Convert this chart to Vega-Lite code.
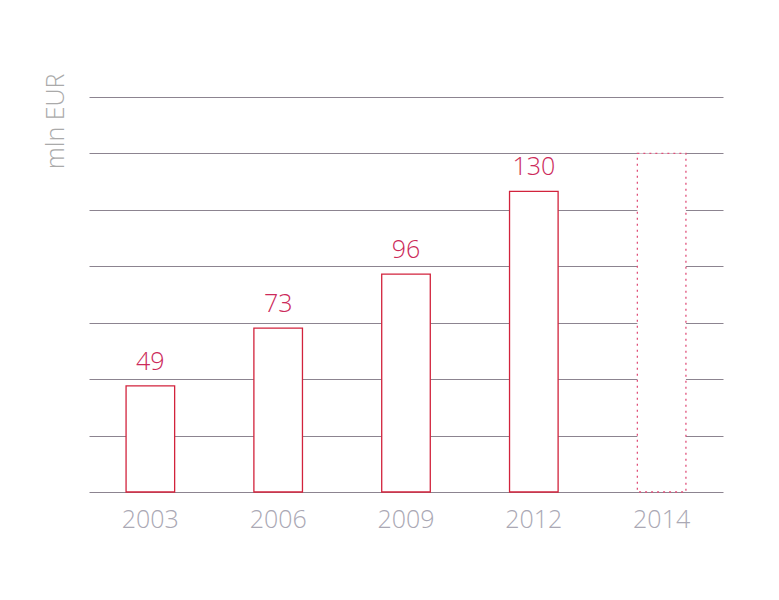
{
  "$schema": "https://vega.github.io/schema/vega-lite/v6.json",
  "autosize": "none",
  "width": 634,
  "height": 395,
  "padding": {"left": 89, "top": 97, "right": 56, "bottom": 108},
  "background": "white",
  "config": {"view": {"stroke": null}},
  "data": {
    "values": [
      {"year": "2003", "value": 47, "label": "49", "status": "actual"},
      {"year": "2006", "value": 72.6, "label": "73", "status": "actual"},
      {"year": "2009", "value": 96.5, "label": "96", "status": "actual"},
      {"year": "2012", "value": 133.2, "label": "130", "status": "actual"},
      {"year": "2014", "value": 150, "label": "", "status": "forecast"}
    ]
  },
  "encoding": {
    "x": {
      "field": "year", "type": "ordinal",
      "scale": {"paddingInner": 0.62, "paddingOuter": 0.29},
      "axis": {
        "title": null, "labelAngle": 0, "domain": false, "ticks": false,
        "labelFont": "Open Sans", "labelFontWeight": 300, "labelFontSize": 25,
        "labelColor": "#aaa8b4", "labelPadding": 15
      }
    },
    "y": {
      "field": "value", "type": "quantitative",
      "scale": {"domain": [0, 175]},
      "axis": {
        "values": [0, 25, 50, 75, 100, 125, 150, 175],
        "grid": true, "gridColor": "#8c8490", "gridWidth": 1,
        "labels": false, "ticks": false, "domain": false,
        "title": "mln EUR", "titleFont": "Open Sans", "titleFontWeight": 300,
        "titleFontSize": 25, "titleColor": "#aaaaaa",
        "titleAngle": -90, "titleAlign": "center", "titleBaseline": "middle",
        "titleX": -34, "titleY": 24
      }
    }
  },
  "layer": [
    {
      "transform": [{"filter": "datum.status == 'actual'"}],
      "mark": {"type": "bar", "fill": "white", "stroke": "#d2233c", "strokeWidth": 1.3}
    },
    {
      "transform": [{"filter": "datum.status == 'forecast'"}],
      "mark": {"type": "bar", "fill": "white", "stroke": "#e0507a", "strokeWidth": 1.3, "strokeDash": [2, 4]}
    },
    {
      "transform": [{"filter": "datum.status == 'actual'"}],
      "mark": {"type": "text", "baseline": "bottom", "dy": -11, "font": "Open Sans", "fontWeight": 300, "fontSize": 25, "color": "#cc2a5a"},
      "encoding": {"text": {"field": "label"}}
    }
  ]
}
